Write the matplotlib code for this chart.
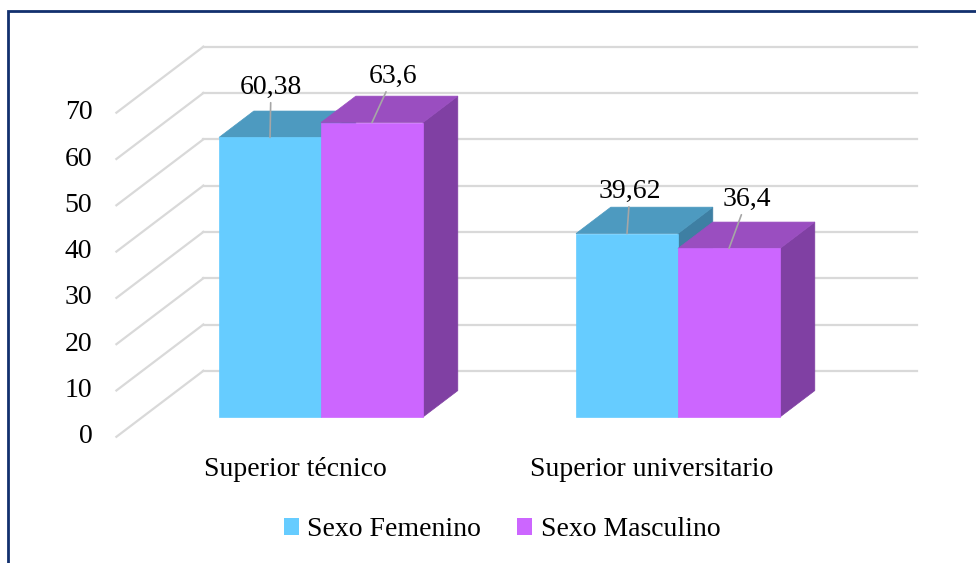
import matplotlib
matplotlib.use('Agg')
import matplotlib.pyplot as plt
from matplotlib.patches import Polygon, Rectangle, Patch

# data
categories = ['Superior técnico', 'Superior universitario']
series = ['Sexo Femenino', 'Sexo Masculino']
femenino = [60.38, 39.62]
masculino = [63.6, 36.4]
labels_fem = ['60,38', '39,62']
labels_mas = ['63,6', '36,4']
yticks = [0, 10, 20, 30, 40, 50, 60, 70]

plt.rcParams['font.family'] = ['Liberation Serif', 'DejaVu Serif']

# layout (pixels of a 976x563 canvas)
W, H = 976, 563
X0_PX, SLOT_PX = 321, 357      # first category centre, category spacing
Y0_PX, UNIT_PX = 417, 4.63     # value 0 on the bar front plane, px per unit
DX, DY = 87 / SLOT_PX, 66 / UNIT_PX   # full floor depth vector
D_FRONT, D_BAR, D_BACK = -0.3, 0.4, 0.7
BW = 102 / SLOT_PX

colors = [('#66CCFF', '#4D9AC0', '#3E7FA3'),
          ('#CC66FF', '#9A4EC0', '#8040A3')]
label_offsets = [[(1, 50), (3, 42)], [(21, 46), (18, 49)]]

fig = plt.figure(figsize=(W / 100, H / 100), dpi=100)
ax = fig.add_axes([0, 0, 1, 1])
ax.set_xlim(-X0_PX / SLOT_PX, (W - X0_PX) / SLOT_PX)
ax.set_ylim((Y0_PX - H) / UNIT_PX, Y0_PX / UNIT_PX)
ax.axis('off')

grid_c = '#D9D9D9'
xl_wall, xr_wall = -0.5, len(categories) - 0.5
for v in yticks:
    bx, by = xl_wall + D_BACK * DX, v + D_BACK * DY
    fx, fy = xl_wall + D_FRONT * DX, v + D_FRONT * DY
    ax.plot([bx, xr_wall + D_BACK * DX], [by, by], color=grid_c, lw=1.6, zorder=1)
    ax.plot([fx, bx], [fy, by], color=grid_c, lw=1.6, zorder=1)
    ax.text(fx - 24 / SLOT_PX, fy, str(v), ha='right', va='center', fontsize=20)

# 3D bars
vals = [femenino, masculino]
labs = [labels_fem, labels_mas]
z = 3
for i in range(len(categories)):
    for j in range(len(series)):
        v = vals[j][i]
        front, top, side = colors[j]
        xl = i - BW + j * BW
        ddx, ddy = D_BAR * DX, D_BAR * DY
        ax.add_patch(Polygon([(xl + BW, 0), (xl + BW + ddx, ddy), (xl + BW + ddx, v + ddy), (xl + BW, v)],
                             closed=True, facecolor=side, edgecolor=side, lw=0.5, zorder=z))
        ax.add_patch(Polygon([(xl, v), (xl + BW, v), (xl + BW + ddx, v + ddy), (xl + ddx, v + ddy)],
                             closed=True, facecolor=top, edgecolor=top, lw=0.5, zorder=z))
        ax.add_patch(Rectangle((xl, 0), BW, v, facecolor=front, edgecolor=front, lw=0.5, zorder=z))
        z += 1
        ox, oy = label_offsets[j][i]
        ax.annotate(labs[j][i], xy=(xl + BW / 2, v), xytext=(ox, oy), textcoords='offset pixels',
                    ha='center', va='center', fontsize=20, zorder=20,
                    arrowprops=dict(arrowstyle='-', color='#A6A6A6', lw=1.2, shrinkA=0, shrinkB=0))

    ax.text(i + D_FRONT * DX, D_FRONT * DY - 33 / UNIT_PX, categories[i],
            ha='center', va='center', fontsize=20)

handles = [Patch(facecolor=c[0], edgecolor='none', label=s) for c, s in zip(colors, series)]
fig.legend(handles=handles, loc='center', bbox_to_anchor=(502 / W, 1 - 530 / H), ncol=2,
           frameon=False, fontsize=20, handlelength=0.55, handleheight=0.55,
           handletextpad=0.3, columnspacing=1.3)

frame = Rectangle((8 / W, -0.1), 1.2, (H - 11) / H + 0.1, transform=fig.transFigure,
                  fill=False, edgecolor='#12306E', lw=2, clip_on=False)
fig.add_artist(frame)

fig.savefig('out.png', dpi=100)
